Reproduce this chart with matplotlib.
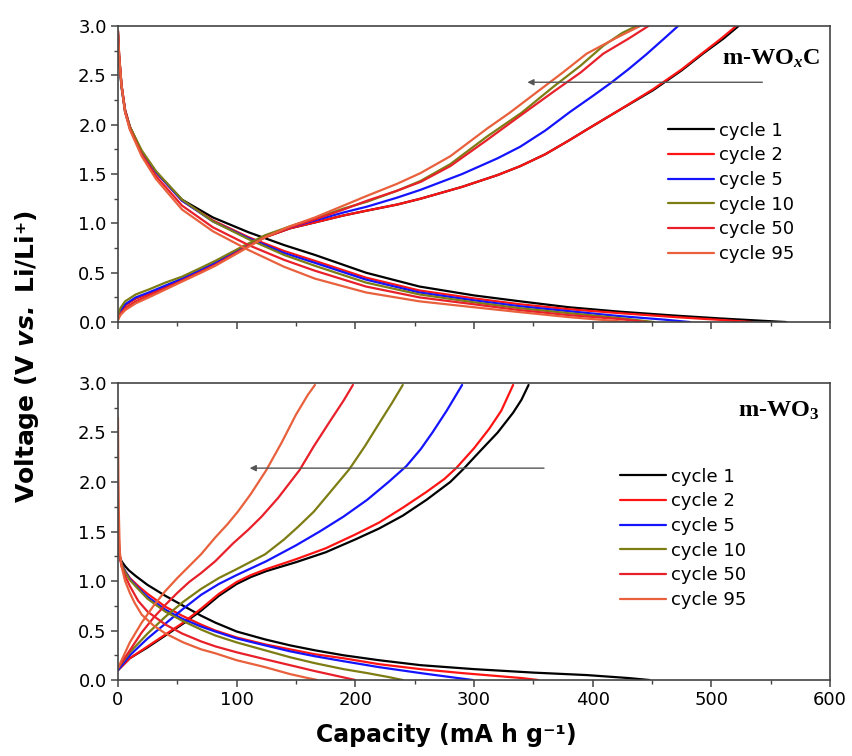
import matplotlib
matplotlib.use("Agg")
import matplotlib.pyplot as plt
from matplotlib.ticker import MultipleLocator

plt.rcParams['mathtext.fontset'] = 'custom'
plt.rcParams['mathtext.rm'] = 'Liberation Serif:bold'
plt.rcParams['mathtext.it'] = 'Liberation Serif:italic:bold'
plt.rcParams['mathtext.bf'] = 'Liberation Serif:bold'
plt.rcParams['mathtext.sf'] = 'DejaVu Sans:bold:italic'

labels = ['cycle 1', 'cycle 2', 'cycle 5', 'cycle 10', 'cycle 50', 'cycle 95']
colors = ['#000000', '#ff1414', '#1414ff', '#7d7d14', '#e8202a', '#e8603c']

# ---------------- m-WOxC (top panel) ----------------
woxc_dis_q = [
    [0, 1, 3, 6, 10, 20, 32, 54, 80, 110, 140, 166, 209, 254, 300, 339, 380, 423, 470, 507, 540, 563],
    [0, 1, 3, 6, 10, 20, 32, 54, 80, 110, 140, 166, 209, 254, 300, 339, 380, 423, 470, 510, 535],
    [0, 1, 3, 6, 10, 20, 32, 54, 80, 110, 140, 166, 209, 254, 300, 339, 380, 423, 460, 482],
    [0, 1, 3, 6, 10, 20, 32, 54, 80, 110, 140, 166, 209, 254, 300, 339, 380, 423, 452],
    [0, 1, 3, 6, 10, 20, 32, 54, 80, 110, 140, 166, 209, 254, 300, 339, 380, 423, 445],
    [0, 1, 3, 6, 10, 20, 32, 54, 80, 110, 140, 166, 209, 254, 300, 339, 380, 410, 430],
]
woxc_dis_v = [
    [2.95, 2.7, 2.4, 2.15, 1.98, 1.72, 1.52, 1.24, 1.06, 0.91, 0.78, 0.68, 0.5, 0.36, 0.27, 0.21, 0.15, 0.105, 0.065, 0.037, 0.015, 0.0],
    [2.95, 2.7, 2.4, 2.15, 1.98, 1.72, 1.52, 1.23, 1.03, 0.86, 0.72, 0.62, 0.45, 0.32, 0.24, 0.18, 0.13, 0.09, 0.05, 0.02, 0.0],
    [2.9, 2.65, 2.38, 2.13, 1.97, 1.72, 1.52, 1.23, 1.02, 0.85, 0.7, 0.6, 0.43, 0.3, 0.22, 0.16, 0.11, 0.06, 0.025, 0.0],
    [2.9, 2.65, 2.38, 2.13, 1.98, 1.74, 1.53, 1.24, 1.02, 0.84, 0.68, 0.57, 0.4, 0.28, 0.2, 0.14, 0.09, 0.04, 0.0],
    [2.93, 2.68, 2.4, 2.13, 1.96, 1.7, 1.48, 1.18, 0.96, 0.78, 0.63, 0.52, 0.36, 0.25, 0.18, 0.12, 0.07, 0.03, 0.0],
    [2.95, 2.7, 2.4, 2.13, 1.95, 1.68, 1.45, 1.14, 0.92, 0.73, 0.56, 0.44, 0.3, 0.21, 0.15, 0.1, 0.05, 0.02, 0.0],
]
woxc_chg_q = [
    [0, 2, 6, 15, 26, 40, 54, 70, 82, 104, 124, 145, 166, 190, 210, 235, 255, 290, 320, 339, 360, 380, 395, 420, 451, 475, 493, 510, 523],
    [0, 2, 6, 15, 26, 40, 54, 70, 82, 104, 124, 145, 166, 190, 210, 235, 255, 290, 320, 339, 360, 380, 395, 420, 451, 475, 493, 508, 521],
    [0, 2, 6, 15, 26, 40, 54, 70, 82, 104, 124, 145, 166, 190, 210, 235, 255, 290, 320, 339, 360, 381, 400, 415, 430, 445, 460, 472],
    [0, 2, 6, 15, 26, 40, 54, 70, 82, 104, 124, 145, 166, 190, 210, 235, 255, 280, 311, 340, 367, 390, 409, 425, 437],
    [0, 2, 6, 15, 26, 40, 54, 70, 82, 104, 124, 145, 166, 190, 210, 235, 255, 280, 311, 340, 367, 390, 409, 430, 447],
    [0, 2, 6, 15, 26, 40, 54, 70, 82, 104, 124, 145, 166, 190, 210, 235, 255, 280, 311, 330, 353, 375, 395, 420, 440],
]
woxc_chg_v = [
    [0.04, 0.1, 0.17, 0.24, 0.29, 0.36, 0.43, 0.52, 0.59, 0.74, 0.86, 0.95, 1.01, 1.08, 1.13, 1.19, 1.25, 1.37, 1.49, 1.58, 1.7, 1.84, 1.95, 2.13, 2.35, 2.55, 2.72, 2.87, 3.0],
    [0.04, 0.1, 0.17, 0.24, 0.29, 0.36, 0.43, 0.52, 0.59, 0.74, 0.86, 0.95, 1.01, 1.08, 1.13, 1.19, 1.25, 1.37, 1.49, 1.58, 1.7, 1.84, 1.95, 2.13, 2.36, 2.56, 2.73, 2.87, 3.0],
    [0.05, 0.11, 0.18, 0.25, 0.3, 0.37, 0.44, 0.53, 0.6, 0.75, 0.87, 0.96, 1.03, 1.11, 1.17, 1.26, 1.34, 1.5, 1.66, 1.777, 1.94, 2.13, 2.29, 2.42, 2.56, 2.71, 2.87, 3.0],
    [0.07, 0.14, 0.21, 0.28, 0.33, 0.4, 0.46, 0.55, 0.62, 0.76, 0.88, 0.97, 1.05, 1.15, 1.22, 1.33, 1.43, 1.6, 1.88, 2.12, 2.385, 2.6, 2.8, 2.93, 3.0],
    [0.03, 0.08, 0.14, 0.21, 0.27, 0.34, 0.42, 0.51, 0.58, 0.73, 0.86, 0.96, 1.04, 1.14, 1.23, 1.33, 1.42, 1.58, 1.845, 2.1, 2.334, 2.53, 2.72, 2.87, 3.0],
    [0.02, 0.07, 0.12, 0.19, 0.25, 0.33, 0.41, 0.5, 0.57, 0.72, 0.86, 0.97, 1.06, 1.18, 1.28, 1.4, 1.51, 1.68, 1.96, 2.12, 2.33, 2.53, 2.72, 2.88, 3.0],
]

# ---------------- m-WO3 (bottom panel) ----------------
wo3_dis_q = [
    [0, 0.5, 1.5, 3, 6, 9, 15, 25, 40, 55, 70, 82, 100, 124, 145, 166, 190, 220, 255, 300, 350, 395, 430, 448],
    [0, 0.5, 1.5, 3, 6, 10, 17, 25, 40, 54, 70, 82, 100, 124, 145, 166, 190, 220, 255, 290, 320, 340, 354],
    [0, 0.5, 1.5, 3, 6, 10, 17, 25, 40, 54, 70, 82, 100, 124, 145, 166, 190, 220, 255, 280, 299],
    [0, 0.5, 1.5, 3, 6, 10, 17, 25, 40, 54, 70, 82, 100, 124, 145, 166, 190, 210, 228, 240],
    [0, 0.5, 1.5, 3, 6, 10, 17, 25, 40, 54, 70, 82, 100, 124, 145, 166, 185, 200],
    [0, 0.5, 1.5, 3, 6, 10, 14, 20, 30, 40, 55, 70, 82, 100, 124, 145, 160, 168],
]
wo3_dis_v = [
    [1.55, 1.35, 1.25, 1.2, 1.15, 1.11, 1.05, 0.96, 0.85, 0.75, 0.65, 0.58, 0.49, 0.41, 0.35, 0.3, 0.25, 0.2, 0.15, 0.11, 0.075, 0.05, 0.02, 0.0],
    [1.7, 1.4, 1.25, 1.17, 1.1, 1.03, 0.95, 0.87, 0.74, 0.65, 0.56, 0.5, 0.43, 0.36, 0.31, 0.26, 0.22, 0.16, 0.11, 0.07, 0.04, 0.02, 0.0],
    [1.6, 1.38, 1.25, 1.17, 1.1, 1.02, 0.93, 0.84, 0.71, 0.62, 0.54, 0.49, 0.42, 0.35, 0.29, 0.24, 0.19, 0.13, 0.07, 0.03, 0.0],
    [1.6, 1.38, 1.25, 1.17, 1.09, 1.01, 0.92, 0.82, 0.69, 0.6, 0.51, 0.45, 0.38, 0.3, 0.23, 0.17, 0.11, 0.07, 0.03, 0.0],
    [2.0, 1.5, 1.25, 1.15, 1.05, 0.95, 0.8, 0.69, 0.56, 0.47, 0.39, 0.34, 0.28, 0.21, 0.15, 0.09, 0.04, 0.0],
    [2.65, 1.8, 1.3, 1.15, 1.0, 0.88, 0.78, 0.66, 0.55, 0.47, 0.38, 0.31, 0.27, 0.2, 0.13, 0.06, 0.02, 0.0],
]
wo3_chg_q = [
    [0, 10, 25, 40, 55, 70, 85, 100, 112, 125, 150, 175, 200, 220, 240, 260, 280, 291, 305, 320, 333, 340, 346],
    [0, 10, 25, 40, 55, 70, 85, 100, 112, 125, 150, 175, 200, 220, 240, 260, 275, 285, 300, 313, 323, 333],
    [0, 10, 25, 40, 55, 70, 85, 100, 125, 150, 170, 190, 210, 228, 243, 255, 265, 277, 290],
    [0, 10, 25, 40, 55, 70, 85, 100, 124, 140, 152, 165, 179, 195, 208, 221, 231, 240],
    [0, 10, 20, 30, 40, 50, 60, 70, 82, 97, 110, 121, 135, 153, 165, 179, 190, 198],
    [0, 10, 20, 30, 40, 50, 60, 70, 82, 92, 101, 112, 125, 138, 150, 160, 166],
]
wo3_chg_v = [
    [0.1, 0.22, 0.33, 0.45, 0.57, 0.7, 0.85, 0.97, 1.04, 1.1, 1.19, 1.29, 1.42, 1.53, 1.66, 1.82, 2.0, 2.13, 2.31, 2.5, 2.7, 2.83, 2.98],
    [0.1, 0.22, 0.34, 0.46, 0.58, 0.72, 0.87, 0.99, 1.06, 1.12, 1.22, 1.33, 1.47, 1.59, 1.74, 1.9, 2.03, 2.14, 2.34, 2.54, 2.72, 2.98],
    [0.1, 0.25, 0.42, 0.57, 0.72, 0.86, 0.97, 1.06, 1.2, 1.36, 1.5, 1.65, 1.82, 2.0, 2.16, 2.33, 2.5, 2.72, 2.98],
    [0.12, 0.28, 0.47, 0.64, 0.79, 0.92, 1.03, 1.12, 1.27, 1.42, 1.55, 1.7, 1.9, 2.13, 2.36, 2.61, 2.8, 2.98],
    [0.12, 0.3, 0.48, 0.63, 0.76, 0.88, 0.99, 1.08, 1.2, 1.38, 1.52, 1.65, 1.84, 2.12, 2.36, 2.62, 2.82, 2.98],
    [0.12, 0.38, 0.58, 0.75, 0.9, 1.03, 1.15, 1.27, 1.44, 1.57, 1.7, 1.88, 2.12, 2.4, 2.68, 2.88, 2.98],
]

# arrows (start capacity, end capacity, voltage)
woxc_arrow = [543, 345, 2.43]
wo3_arrow = [359, 111, 2.14]

fig = plt.figure(figsize=(8.53, 7.56), dpi=100)
ax1 = fig.add_axes([0.1383, 0.574, 0.8347, 0.3916])
ax2 = fig.add_axes([0.1383, 0.1005, 0.8347, 0.3929])

tick_font = 'DejaVu Sans'
spine_col = '#444444'


def style(ax, show_xlabels):
    ax.set_xlim(0, 600)
    ax.set_ylim(0, 3.0)
    ax.xaxis.set_major_locator(MultipleLocator(100))
    ax.xaxis.set_minor_locator(MultipleLocator(50))
    ax.yaxis.set_major_locator(MultipleLocator(0.5))
    ax.yaxis.set_minor_locator(MultipleLocator(0.25))
    ax.tick_params(which='major', direction='out', length=5, width=1.1, color=spine_col,
                   labelsize=13, pad=3, top=False, right=False)
    ax.tick_params(which='minor', direction='out', length=3, width=1.0, color=spine_col,
                   top=False, right=False)
    for s in ax.spines.values():
        s.set_color(spine_col)
        s.set_linewidth(1.2)
    ax.set_yticks([0, 0.5, 1.0, 1.5, 2.0, 2.5, 3.0])
    ax.set_yticklabels(['0.0', '0.5', '1.0', '1.5', '2.0', '2.5', '3.0'], fontfamily=tick_font)
    if show_xlabels:
        for t in ax.get_xticklabels():
            t.set_fontfamily(tick_font)
    else:
        ax.tick_params(axis='x', labelbottom=False)


def draw(ax, dq, dv, cq, cv, arrow, legend_anchor):
    handles = []
    for i in range(len(labels)):
        h, = ax.plot(dq[i], dv[i], color=colors[i], lw=1.6, label=labels[i], solid_capstyle='round')
        ax.plot(cq[i], cv[i], color=colors[i], lw=1.6, solid_capstyle='round')
        handles.append(h)
    ax.annotate('', xy=(arrow[1], arrow[2]), xytext=(arrow[0], arrow[2]),
                arrowprops=dict(arrowstyle='-|>', color='#555555', lw=1.0,
                                mutation_scale=9, shrinkA=0, shrinkB=0))
    leg = ax.legend(handles=handles, loc='upper left', bbox_to_anchor=legend_anchor,
                    frameon=False, fontsize=13, handlelength=2.55, handletextpad=0.3,
                    labelspacing=0.37, borderpad=0, borderaxespad=0)
    for t in leg.get_texts():
        t.set_fontfamily(tick_font)
    return leg


draw(ax1, woxc_dis_q, woxc_dis_v, woxc_chg_q, woxc_chg_v, woxc_arrow, (0.772, 0.677))
draw(ax2, wo3_dis_q, wo3_dis_v, wo3_chg_q, wo3_chg_v, wo3_arrow, (0.705, 0.715))
style(ax1, False)
style(ax2, True)

ax1.text(0.986, 0.868, r'm-WO$_{x}$C', transform=ax1.transAxes, ha='right', va='baseline',
         fontsize=17.5, fontfamily='Liberation Serif', fontweight='bold')
ax2.text(0.986, 0.886, r'm-WO$_{3}$', transform=ax2.transAxes, ha='right', va='baseline',
         fontsize=17.5, fontfamily='Liberation Serif', fontweight='bold')

fig.text(0.5235, 0.012, 'Capacity (mA h g\u207b\u00b9)', ha='center', va='bottom',
         fontsize=17, fontweight='bold', fontfamily='DejaVu Sans')
fig.text(0.032, 0.528, 'Voltage (V $\\mathsf{vs.}$ Li/Li\u207a)',
         rotation=90, ha='center', va='center',
         fontsize=18, fontweight='bold', fontfamily='DejaVu Sans')

fig.savefig('out.png', dpi=100)
